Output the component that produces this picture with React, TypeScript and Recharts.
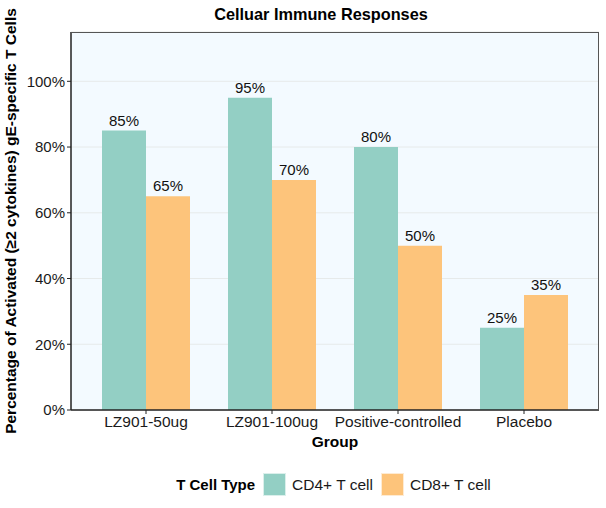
import { Bar, BarChart, CartesianGrid, LabelList, Legend, XAxis, YAxis } from 'recharts'

const GROUPS = ['LZ901-50ug', 'LZ901-100ug', 'Positive-controlled', 'Placebo']
const CD4 = [85, 95, 80, 25]
const CD8 = [65, 70, 50, 35]
const Y_TICKS = [0, 20, 40, 60, 80, 100]

const TEAL = '#93cfc4'
const ORANGE = '#fdc47b'
const FONT = '"Liberation Sans", Arial, sans-serif'

const data = GROUPS.map((g, i) => ({ group: g, cd4: CD4[i], cd8: CD8[i] }))

function LegendBox() {
  const item = (color: string, label: string) => (
    <span style={{ display: 'inline-flex', alignItems: 'center', marginLeft: 8 }}>
      <span style={{ width: 21, height: 21, background: color, border: '1px solid #ffffffaa', display: 'inline-block' }} />
      <span style={{ marginLeft: 6, fontSize: 15.5, color: '#1a1a1a' }}>{label}</span>
    </span>
  )
  return (
    <div style={{ display: 'flex', justifyContent: 'center', alignItems: 'center', fontFamily: FONT, paddingLeft: 68, paddingTop: 13 }}>
      <span style={{ fontWeight: 'bold', fontSize: 15 }}>T Cell Type</span>
      {item(TEAL, 'CD4+ T cell')}
      {item(ORANGE, 'CD8+ T cell')}
    </div>
  )
}

export default function App() {
  return (
    <div style={{ position: 'relative', width: 606, height: 508, fontFamily: FONT }}>
      <style>{`body{margin:0}`}</style>
      <div style={{ position: 'absolute', top: 5, left: 0, width: 642, textAlign: 'center', fontWeight: 'bold', fontSize: 16.3, color: '#000' }}>
        Celluar Immune Responses
      </div>
      <BarChart
        width={606}
        height={508}
        data={data}
        margin={{ top: 32, right: 7, bottom: 0, left: 0 }}
        barGap={0}
        barCategoryGap={19}
      >
        <CartesianGrid vertical={false} stroke="#e6eaea" fill="#f3faff" />
        <XAxis
          dataKey="group"
          padding={{ left: 12, right: 12 }}
          height={50}
          tickLine={{ stroke: '#222' }}
          tickSize={4}
          axisLine={{ stroke: '#222', strokeWidth: 1.5 }}
          tick={{ fill: '#1a1a1a', fontSize: 15.5, fontFamily: FONT }}
          label={{ value: 'Group', position: 'insideBottom', offset: 13, fill: '#000', fontSize: 15.5, fontWeight: 'bold', fontFamily: FONT }}
        />
        <YAxis
          width={71}
          domain={[0, 115]}
          ticks={Y_TICKS}
          allowDataOverflow
          tickFormatter={(v: number) => `${v}%`}
          tickLine={{ stroke: '#222' }}
          tickSize={4}
          axisLine={{ stroke: '#222', strokeWidth: 1.5 }}
          tick={{ fill: '#1a1a1a', fontSize: 15, fontFamily: FONT }}
          label={{
            value: 'Percentage of Activated (≥2 cytokines) gE-specific T Cells',
            angle: -90,
            position: 'insideLeft',
            offset: 0,
            dx: 10,
            style: { textAnchor: 'middle', fill: '#000', fontSize: 15.5, fontWeight: 'bold', fontFamily: FONT },
          }}
        />
        <Legend verticalAlign="bottom" height={48} content={() => <LegendBox />} />
        <Bar dataKey="cd4" name="CD4+ T cell" fill={TEAL} isAnimationActive={false}>
          <LabelList dataKey="cd4" position="top" offset={5} formatter={(v: number) => `${v}%`} style={{ fill: '#111', fontSize: 15, fontFamily: FONT }} />
        </Bar>
        <Bar dataKey="cd8" name="CD8+ T cell" fill={ORANGE} isAnimationActive={false}>
          <LabelList dataKey="cd8" position="top" offset={5} formatter={(v: number) => `${v}%`} style={{ fill: '#111', fontSize: 15, fontFamily: FONT }} />
        </Bar>
      </BarChart>
      {/* panel border (top/right) */}
      <div
        style={{
          position: 'absolute',
          left: 71,
          top: 32,
          width: 527,
          height: 377,
          borderTop: '1px solid #555',
          borderRight: '1.5px solid #555',
          pointerEvents: 'none',
        }}
      />
    </div>
  )
}
